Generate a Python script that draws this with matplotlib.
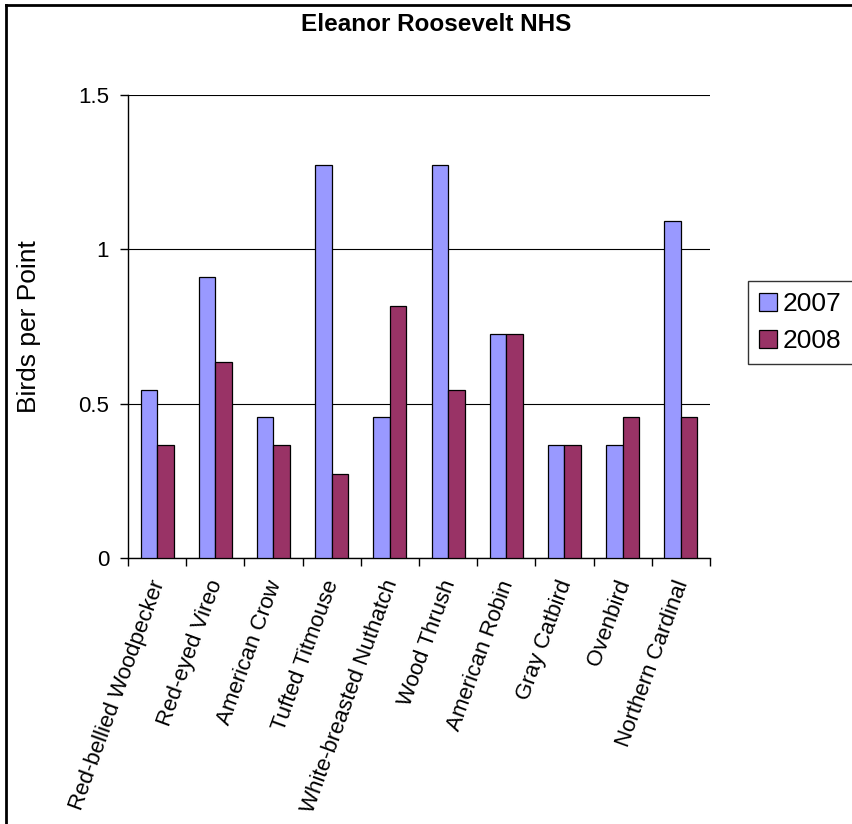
import numpy as np
import matplotlib
matplotlib.use("Agg")
import matplotlib.pyplot as plt
from matplotlib.patches import Patch
from matplotlib.lines import Line2D
from matplotlib.transforms import ScaledTranslation

plt.rcParams['font.family'] = ['Liberation Sans', 'DejaVu Sans']

species = ["Red-bellied Woodpecker", "Red-eyed Vireo", "American Crow",
           "Tufted Titmouse", "White-breasted Nuthatch", "Wood Thrush",
           "American Robin", "Gray Catbird", "Ovenbird", "Northern Cardinal"]
birds_2007 = [0.545, 0.909, 0.455, 1.273, 0.455, 1.273, 0.727, 0.364, 0.364, 1.091]
birds_2008 = [0.364, 0.636, 0.364, 0.273, 0.818, 0.545, 0.727, 0.364, 0.455, 0.455]
series_labels = ["2007", "2008"]
y_ticks = [0, 0.5, 1, 1.5]
y_tick_labels = ["0", "0.5", "1", "1.5"]

W, H = 853, 824
fig = plt.figure(figsize=(W / 100, H / 100), dpi=100)
fig.patch.set_facecolor("white")

left, right, top, bottom = 128, 710, 95.3, 557.7
ax = fig.add_axes([left / W, 1 - bottom / H, (right - left) / W, (bottom - top) / H])

col_07 = "#9999FF"
col_08 = "#993366"
x = np.arange(len(species))
bw = 0.285
ax.bar(x - bw / 2, birds_2007, bw, color=col_07, edgecolor="black", linewidth=0.9, zorder=3)
ax.bar(x + bw / 2, birds_2008, bw, color=col_08, edgecolor="black", linewidth=0.9, zorder=3)

ax.set_xlim(-0.5, len(species) - 0.5)
ax.set_ylim(0, 1.5)
ax.set_yticks(y_ticks)
ax.set_yticklabels(y_tick_labels, fontsize=16)
ax.yaxis.grid(True, color="black", linewidth=0.8, zorder=0)
ax.set_axisbelow(True)

for s in ("top", "right"):
    ax.spines[s].set_visible(False)
for s in ("left", "bottom"):
    ax.spines[s].set_color("black")
    ax.spines[s].set_linewidth(1.0)

ax.tick_params(axis="y", direction="out", length=5.5, width=1, pad=8, colors="black")

# category boundary ticks on the x axis, labels centred in each category
ax.set_xticks(np.arange(-0.5, len(species) + 0.5, 1), minor=True)
ax.tick_params(axis="x", which="minor", direction="out", length=6, width=1)
ax.set_xticks(x)
ax.tick_params(axis="x", which="major", length=0, pad=14)
ax.set_xticklabels(species, fontsize=16, rotation=70, ha="right", va="top",
                   rotation_mode="anchor")
offset = ScaledTranslation(-8 / 100, 0, fig.dpi_scale_trans)
for lab in ax.get_xticklabels():
    lab.set_transform(lab.get_transform() + offset)

ax.set_ylabel("Birds per Point", fontsize=19)
ax.yaxis.set_label_coords(41 / W, 1 - 326.5 / H, transform=fig.transFigure)

fig.text(436 / W, 1 - 31 / H, "Eleanor Roosevelt NHS", ha="center", va="baseline",
         fontsize=17.5, fontweight="bold")

handles = [Patch(facecolor=col_07, edgecolor="black", linewidth=0.9),
           Patch(facecolor=col_08, edgecolor="black", linewidth=0.9)]
leg = fig.legend(handles, series_labels, loc="upper left",
                 bbox_to_anchor=(748 / W, 1 - 281 / H), bbox_transform=fig.transFigure,
                 fontsize=19, frameon=True, fancybox=False, borderaxespad=0,
                 handlelength=0.68, handleheight=0.68, handletextpad=0.23,
                 borderpad=0.42, labelspacing=0.5)
leg.get_frame().set_edgecolor("black")
leg.get_frame().set_linewidth(1.0)

# chart-area border along the left and top edges
bx, by = 6.5 / W, 1 - 5.3 / H
fig.add_artist(Line2D([bx, bx], [0, by], transform=fig.transFigure, color="black", linewidth=2.0))
fig.add_artist(Line2D([bx, 1.0], [by, by], transform=fig.transFigure, color="black", linewidth=2.0))

fig.savefig("out.png", dpi=100)
